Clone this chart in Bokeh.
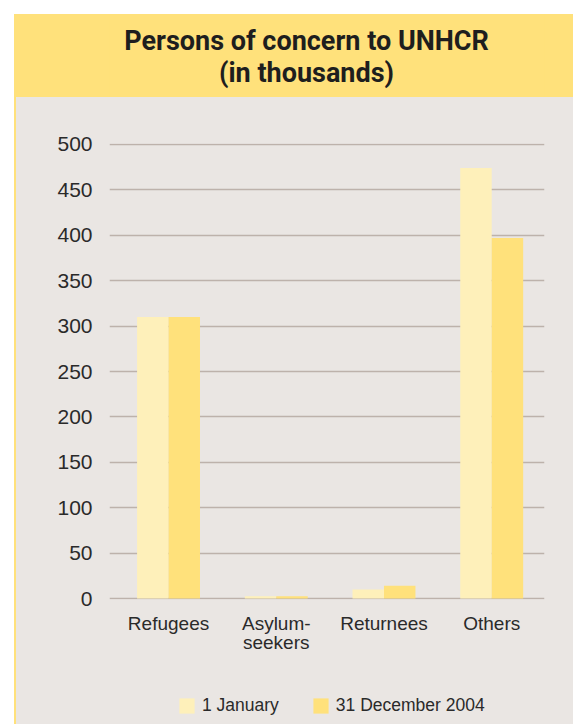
import numpy as np
from bokeh.plotting import figure
from bokeh.models import Legend, LegendItem, Label, FixedTicker, Range1d
from bokeh.layouts import column
from bokeh.embed import file_html
from bokeh.resources import INLINE

categories = ["Refugees", "Asylum-\nseekers", "Returnees", "Others"]
jan_values = [310, 2.5, 10, 474]
dec_values = [310, 2.5, 14, 397]
y_ticks = [0, 50, 100, 150, 200, 250, 300, 350, 400, 450, 500]
series_labels = ["1 January", "31 December 2004"]
title_text = "Persons of concern to UNHCR\n(in thousands)"

YELLOW = "#FFE17B"
LIGHT = "#FEF0BA"
PANEL = "#EAE6E3"
GRID = "#BDB2AB"
TEXT = "#2A2A2A"
FONT = "Liberation Sans"
TITLE_FONT = "Roboto"

W = 557
LEFT = 93
FRAME_W = 435
RIGHT = W - LEFT - FRAME_W


def bare(fig):
    fig.grid.visible = False
    return fig


# title band
tp = figure(width=W, height=83, x_range=Range1d(0, 1), y_range=Range1d(0, 1),
            output_backend="svg", toolbar_location=None,
            x_axis_location=None, y_axis_location=None,
            min_border_left=LEFT, min_border_right=RIGHT,
            min_border_top=0, min_border_bottom=0,
            outline_line_color=None,
            background_fill_color=None, border_fill_color=YELLOW)
tp.styles = {"background-color": YELLOW}
bare(tp)
tp.add_layout(Label(x=197, y=41, x_units="screen", y_units="screen",
                    text=title_text, text_align="center", text_baseline="middle",
                    text_font=TITLE_FONT, text_font_style="bold",
                    text_font_size="27px", text_color="#1E1E1E",
                    text_line_height=1.0))

# chart panel
p = figure(width=W, height=564, x_range=Range1d(-0.548, 3.49), y_range=Range1d(-1, 501),
           output_backend="svg", toolbar_location=None,
           min_border_left=LEFT, min_border_right=RIGHT,
           min_border_top=46, min_border_bottom=62,
           outline_line_color=None,
           background_fill_color=None, border_fill_color=PANEL)

idx = np.arange(len(categories))
bw = 0.292
r1 = p.vbar(x=idx - bw / 2, top=jan_values, bottom=0, width=bw,
            fill_color=LIGHT, line_color=None)
r2 = p.vbar(x=idx + bw / 2, top=dec_values, bottom=0, width=bw,
            fill_color=YELLOW, line_color=None)

p.xgrid.visible = False
p.ygrid.grid_line_color = GRID
p.ygrid.grid_line_width = 1.5
p.ygrid.ticker = FixedTicker(ticks=y_ticks)

p.yaxis.ticker = FixedTicker(ticks=y_ticks)
p.yaxis.axis_line_color = None
p.yaxis.major_tick_line_color = None
p.yaxis.minor_tick_line_color = None
p.yaxis.major_label_standoff = 11
p.yaxis.major_label_text_font = FONT
p.yaxis.major_label_text_font_size = "21px"
p.yaxis.major_label_text_color = TEXT

p.xaxis.ticker = FixedTicker(ticks=list(idx))
p.xaxis.major_label_overrides = {int(i): c for i, c in zip(idx, categories)}
p.xaxis.axis_line_color = None
p.xaxis.major_tick_line_color = None
p.xaxis.minor_tick_line_color = None
p.xaxis.major_label_standoff = 7
p.xaxis.major_label_text_font = FONT
p.xaxis.major_label_text_font_size = "19px"
p.xaxis.major_label_text_color = TEXT
p.xaxis.major_label_text_line_height = 0.95

# legend strip (its key swatches come from off-screen proxy renderers)
lg = figure(width=W, height=63, x_range=Range1d(0, 1), y_range=Range1d(0, 1),
            output_backend="svg", toolbar_location=None,
            x_axis_location=None, y_axis_location=None,
            min_border_left=LEFT, min_border_right=RIGHT,
            min_border_top=0, min_border_bottom=0,
            outline_line_color=None,
            background_fill_color=None, border_fill_color=PANEL)
bare(lg)
k1 = lg.vbar(x=[-5], top=[-5], width=0.1, fill_color=LIGHT, line_color=None)
k2 = lg.vbar(x=[-5], top=[-5], width=0.1, fill_color=YELLOW, line_color=None)
legend = Legend(items=[LegendItem(label=series_labels[0], renderers=[k1]),
                       LegendItem(label=series_labels[1], renderers=[k2])],
                location=(68, 8), orientation="horizontal",
                glyph_width=19, glyph_height=19, label_standoff=6, spacing=32,
                padding=0, margin=0, border_line_color=None,
                background_fill_alpha=0,
                label_text_font=FONT, label_text_font_size="17.5px",
                label_text_color=TEXT)
lg.add_layout(legend)

layout = column(tp, p, lg)
layout.margin = (14, 0, 0, 14)
layout.styles = {"background-color": PANEL, "border-left": "2px solid " + YELLOW}

open("out.html", "w").write(file_html(layout, INLINE))
